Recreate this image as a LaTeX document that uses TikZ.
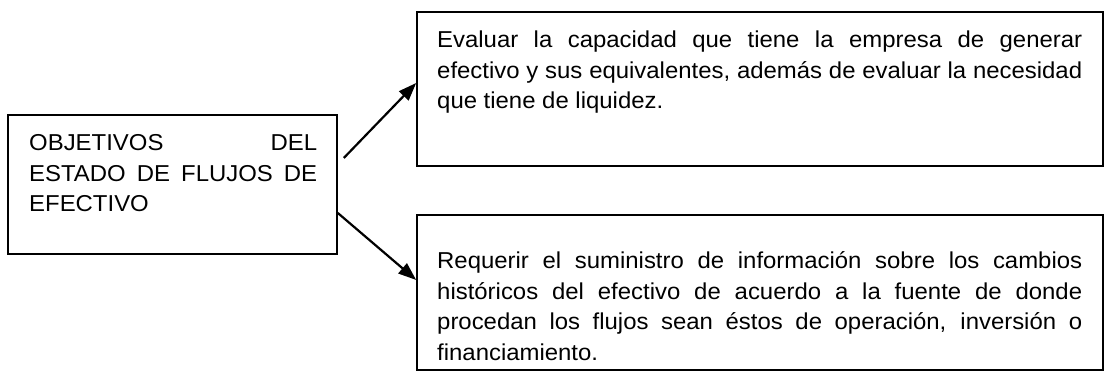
\documentclass[tikz,border=0pt]{standalone}
\usepackage{fontspec}
\setmainfont{Liberation Sans}[FakeStretch=1.04]
\usepackage{tikz}
\usetikzlibrary{arrows.meta,positioning}

\begin{document}
\begin{tikzpicture}[x=1pt,y=1pt,
  caja/.style={draw=black,line width=1.6pt,inner sep=0pt},
  txt/.style={inner sep=0pt,align=justify,font=\fontsize{23}{30.5}\selectfont},
  arr/.style={-{Triangle[length=18pt,width=13pt]},line width=2.2pt}]
\useasboundingbox (0,0) rectangle (1105,372);
% boxes
\node[caja,minimum width=329,minimum height=139] (obj) at (172.5,187.5) {};
\node[caja,minimum width=686,minimum height=154] (eval) at (760,283) {};
\node[caja,minimum width=686,minimum height=155] (req) at (760,79.5) {};
% texts
\node[txt,text width=288,anchor=base west] (objt) at (29,221)
  {OBJETIVOS DEL\linebreak ESTADO DE FLUJOS DE\linebreak EFECTIVO};
\node[txt,text width=645,anchor=base west] (evalt) at (437,324)
  {Evaluar la capacidad que tiene la empresa de generar\linebreak
   efectivo y sus equivalentes, además de evaluar la necesidad\linebreak
   que tiene de liquidez.};
\node[txt,text width=645,anchor=base west] (reqt) at (437,103)
  {Requerir el suministro de información sobre los cambios\linebreak
   históricos del efectivo de acuerdo a la fuente de donde\linebreak
   procedan los flujos sean éstos de operación, inversión o\linebreak
   financiamiento.};
% arrows
\draw[arr] ([shift={(6,26.5)}]obj.east) -- ([yshift=6]eval.west);
\draw[arr] ([yshift=-28.5]obj.east) -- ([yshift=12.5]req.west);
\end{tikzpicture}
\end{document}
